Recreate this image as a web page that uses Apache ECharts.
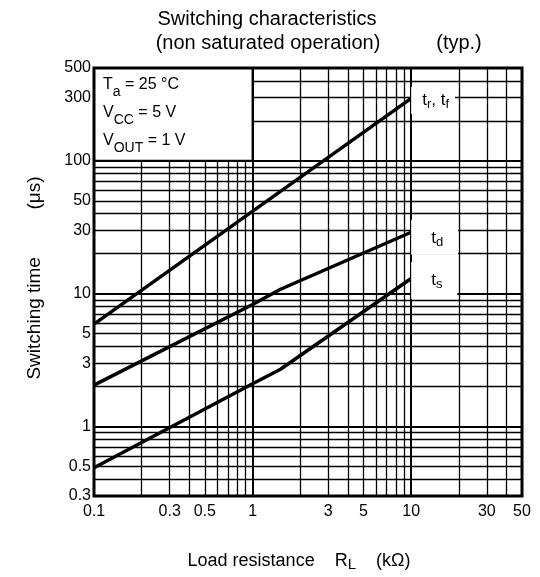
<!DOCTYPE html>
<html>
<head>
<meta charset="UTF-8">
<script src="https://cdn.jsdelivr.net/npm/echarts@6/dist/echarts.min.js"></script>
<style>
  html, body { margin: 0; padding: 0; background: #fff; }
  #main { width: 540px; height: 577px; }
</style>
</head>
<body>
<div id="main"></div>
<script>
// axis ticks (labels) and grid lines
var xTickValues = [0.1, 0.3, 0.5, 1, 3, 5, 10, 30, 50];
var yTickValues = [0.3, 0.5, 1, 3, 5, 10, 30, 50, 100, 300, 500];
var xGridValues = [0.2, 0.3, 0.4, 0.5, 0.6, 0.7, 0.8, 0.9, 1, 2, 3, 4, 5, 6, 7, 8, 9, 10, 20, 30, 40];
var yGridValues = [0.4, 0.5, 0.6, 0.7, 0.8, 0.9, 1, 2, 3, 4, 5, 6, 7, 8, 9, 10, 20, 30, 40, 50, 60, 70, 80, 90, 100, 200, 300, 400];

// curves: [R_L (kOhm), time (us)]
var trtf = [[0.1, 5.9], [10, 295]];
var td = [[0.1, 2.05], [1, 8.3], [1.5, 10.8], [10, 29]];
var ts = [[0.1, 0.49], [1, 2.1], [1.5, 2.7], [10, 13]];

var font = 'Liberation Sans, Arial, sans-serif';
var fmt = function (v) { return String(parseFloat((+v).toPrecision(4))); };

var gridLines = [];
xGridValues.forEach(function (v) {
    gridLines.push({ xAxis: v, lineStyle: { width: (v === 1 || v === 10) ? 2 : 1.3 } });
});
yGridValues.forEach(function (v) {
    gridLines.push({ yAxis: v, lineStyle: { width: (v === 1 || v === 10 || v === 100) ? 2 : 1.3 } });
});

function subRich(size, sub, lh) {
    return {
        n: { fontSize: size, fontFamily: font, color: '#000', lineHeight: lh },
        s: { fontSize: sub, fontFamily: font, color: '#000', lineHeight: sub + 1, verticalAlign: 'bottom' }
    };
}

function curve(name, data, label, lbl) {
    return {
        name: name,
        type: 'line',
        data: data,
        z: 3,
        symbol: 'none',
        silent: true,
        lineStyle: { color: '#000', width: 3.5 },
        endLabel: {
            show: true,
            formatter: label,
            distance: 0,
            offset: lbl.offset,
            backgroundColor: '#fff',
            padding: lbl.padding,
            rich: subRich(17, 13, 21)
        }
    };
}

var myChart = echarts.init(document.getElementById('main'));
var option = {
    animation: false,
    grid: {
        left: 94, right: 18, top: 68, bottom: 70,
        show: true, z: 10,
        backgroundColor: 'transparent',
        borderColor: '#000', borderWidth: 3
    },
    xAxis: {
        type: 'log', logBase: 10, min: 0.1, max: 50,
        name: '{n|Load resistance    R}{s|L}{n|    (kΩ)}',
        nameLocation: 'middle', nameGap: 54,
        nameTextStyle: { rich: subRich(18, 15, 22), padding: [0, 18, 0, 0] },
        axisLine: { show: false },
        axisTick: { show: false },
        splitLine: { show: false },
        axisLabel: {
            customValues: xTickValues,
            formatter: fmt,
            margin: 8,
            fontSize: 16, fontFamily: font, color: '#000'
        }
    },
    yAxis: {
        type: 'log', logBase: 10, min: 0.3, max: 500,
        name: 'Switching time         (μs)',
        nameLocation: 'middle', nameGap: 50,
        nameTextStyle: { fontSize: 19, fontFamily: font, color: '#000', padding: [0, 0, 0, 8] },
        axisLine: { show: false },
        axisTick: { show: false },
        splitLine: { show: false },
        axisLabel: {
            customValues: yTickValues,
            formatter: fmt,
            margin: 3,
            fontSize: 16, fontFamily: font, color: '#000'
        }
    },
    graphic: [
        { type: 'text', style: { x: 267, y: 19, text: 'Switching characteristics', textAlign: 'center', textVerticalAlign: 'middle', fontSize: 20, fontFamily: font, fill: '#000' } },
        { type: 'text', style: { x: 268, y: 43, text: '(non saturated operation)', textAlign: 'center', textVerticalAlign: 'middle', fontSize: 20, fontFamily: font, fill: '#000' } },
        { type: 'text', style: { x: 459, y: 43, text: '(typ.)', textAlign: 'center', textVerticalAlign: 'middle', fontSize: 20, fontFamily: font, fill: '#000' } }
    ],
    series: [
        {
            name: 'grid',
            type: 'line',
            data: [],
            silent: true,
            markLine: {
                z: 1,
                silent: true,
                symbol: ['none', 'none'],
                label: { show: false },
                lineStyle: { color: '#000', type: 'solid', width: 1.3 },
                emphasis: { disabled: true },
                data: gridLines
            },
            markArea: {
                z: 2,
                silent: true,
                itemStyle: { color: '#fff', borderColor: '#000', borderWidth: 2 },
                label: { show: false },
                data: [[{ xAxis: 0.1, yAxis: 100 }, { xAxis: 1, yAxis: 500 }]]
            },
            markPoint: {
                z: 3,
                silent: true,
                symbol: 'circle',
                symbolSize: 0,
                label: {
                    show: true,
                    position: [9, 3],
                    formatter: '{n|T}{s|a}{n| = 25 °C}\n{n|V}{s|CC}{n| = 5 V}\n{n|V}{s|OUT}{n| = 1 V}',
                    rich: {
                        n: { fontSize: 16, fontFamily: font, color: '#000', lineHeight: 28 },
                        s: { fontSize: 14, fontFamily: font, color: '#000', lineHeight: 20, verticalAlign: 'bottom' }
                    }
                },
                data: [{ coord: [0.1, 500] }]
            }
        },
        curve('tr, tf', trtf, '{n|t}{s|r}{n|, t}{s|f}', { offset: [0, 2], padding: [3, 6, 3, 11] }),
        curve('td', td, '{n|t}{s|d}', { offset: [0, 5], padding: [8, 15, 6, 20] }),
        curve('ts', ts, '{n|t}{s|s}', { offset: [0, 2], padding: [8, 15, 8, 20] })
    ]
};
myChart.setOption(option);
</script>
</body>
</html>
